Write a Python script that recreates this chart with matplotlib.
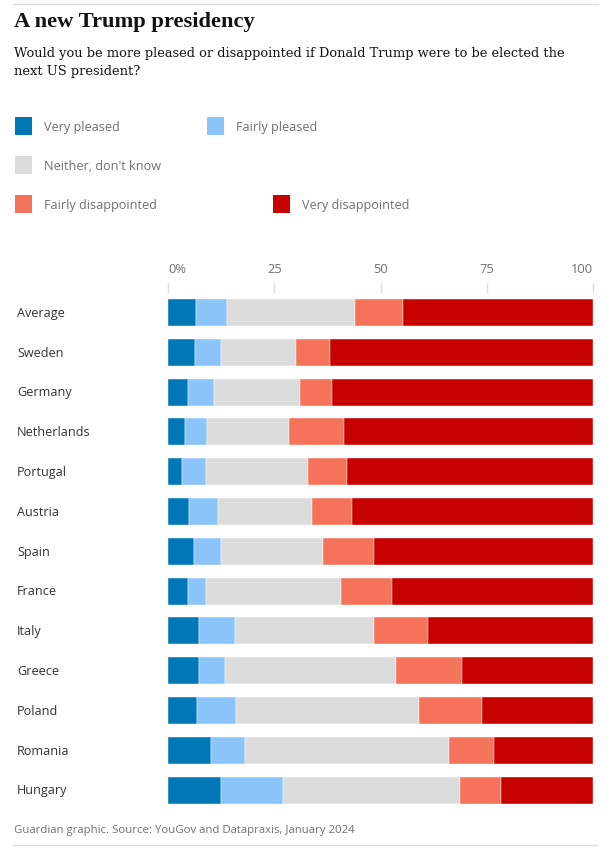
import numpy as np
import matplotlib
matplotlib.use("Agg")
import matplotlib.pyplot as plt
import matplotlib.patches as mpatches
from matplotlib.transforms import blended_transform_factory

# Datos (porcentajes)
countries = ["Average", "Sweden", "Germany", "Netherlands", "Portugal", "Austria",
             "Spain", "France", "Italy", "Greece", "Poland", "Romania", "Hungary"]
very_pleased = [6.5, 6.4, 4.8, 3.9, 3.2, 5.0, 6.1, 4.8, 7.2, 7.2, 6.9, 10.0, 12.4]
fairly_pleased = [7.3, 6.1, 6.0, 5.3, 5.8, 6.8, 6.4, 4.1, 8.5, 6.3, 9.0, 8.2, 14.7]
neither = [30.3, 17.6, 20.3, 19.3, 23.9, 22.1, 23.9, 31.9, 32.7, 40.2, 43.2, 48.0, 41.7]
fairly_disappointed = [11.1, 8.0, 7.5, 12.8, 9.2, 9.3, 12.0, 11.8, 12.8, 15.5, 14.7, 10.5, 9.5]
very_disappointed = [44.8, 61.9, 61.4, 58.7, 57.9, 56.8, 51.6, 47.4, 38.8, 30.8, 26.2, 23.3, 21.7]

series_names = ["Very pleased", "Fairly pleased", "Neither, don't know",
                "Fairly disappointed", "Very disappointed"]
series_colors = ["#0077b6", "#8ac4f9", "#dcdcdc", "#f5735a", "#c70000"]
tick_values = [0, 25, 50, 75, 100]
tick_labels = ["0%", "25", "50", "75", "100"]

W, H = 611, 851
fig = plt.figure(figsize=(W / 100, H / 100), dpi=100)
fig.patch.set_facecolor("white")

def fx(px):
    return px / W

def fy(py):
    return 1 - py / H

sans = "Open Sans"
grey_txt = "#707070"

# Líneas superior e inferior
fig.add_artist(plt.Line2D([fx(13), fx(598)], [fy(4), fy(4)], color="#dcdcdc", lw=1))
fig.add_artist(plt.Line2D([fx(13), fx(598)], [fy(845), fy(845)], color="#dcdcdc", lw=1))

# Título y subtítulo
fig.text(fx(14), fy(22), "A new Trump presidency", family="Liberation Serif",
         fontweight="bold", fontsize=16.2, color="#121212", va="center")
fig.text(fx(14), fy(53), "Would you be more pleased or disappointed if Donald Trump were to be elected the",
         family="DejaVu Serif", fontsize=9.4, color="#121212", va="center")
fig.text(fx(14), fy(71), "next US president?",
         family="DejaVu Serif", fontsize=9.4, color="#121212", va="center")

# Leyenda manual
legend_pos = [(15, 126), (207, 126), (15, 165), (15, 204), (273, 204)]
for (lx, ly), name, col in zip(legend_pos, series_names, series_colors):
    fig.add_artist(mpatches.Rectangle((fx(lx), fy(ly + 9)), fx(17), 18 / H,
                                      transform=fig.transFigure, facecolor=col,
                                      edgecolor="none"))
    fig.text(fx(lx + 29), fy(ly + 1), name, family=sans, fontsize=9.1,
             color=grey_txt, va="center")

# Ejes de barras
top_px, bot_px = 292.6, 810
ax = fig.add_axes([fx(168), fy(bot_px), fx(593) - fx(168), (bot_px - top_px) / H])

y = np.arange(len(countries))
left = np.zeros(len(countries))
for vals, col in zip([very_pleased, fairly_pleased, neither,
                      fairly_disappointed, very_disappointed], series_colors):
    ax.barh(y, vals, left=left, height=0.68, color=col,
            edgecolor="white", linewidth=0.3)
    left += np.array(vals)

ax.set_xlim(0, 100)
ax.set_ylim(len(countries) - 0.5, -0.5)
for s in ax.spines.values():
    s.set_visible(False)

ax.set_yticks([])
ax.xaxis.tick_top()
ax.set_xticks(tick_values)
ax.set_xticklabels(tick_labels)
ax.tick_params(axis="x", top=True, bottom=False, length=7, width=1,
               color="#dcdcdc", labelcolor=grey_txt, labelsize=9.3, pad=5)
for lbl in ax.get_xticklabels():
    lbl.set_family(sans)
ax.get_xticklabels()[0].set_ha("left")
ax.get_xticklabels()[-1].set_ha("right")

# Etiquetas de países
trans = blended_transform_factory(fig.transFigure, ax.transData)
for i, name in enumerate(countries):
    ax.text(fx(17), i + 0.02, name, transform=trans, family=sans, fontsize=9.1,
            color="#333333", va="center", ha="left")

# Pie
fig.text(fx(14), fy(831), "Guardian graphic. Source: YouGov and Datapraxis, January 2024",
         family=sans, fontsize=8.2, color=grey_txt, va="center")

fig.savefig("out.png", dpi=100, facecolor="white")
